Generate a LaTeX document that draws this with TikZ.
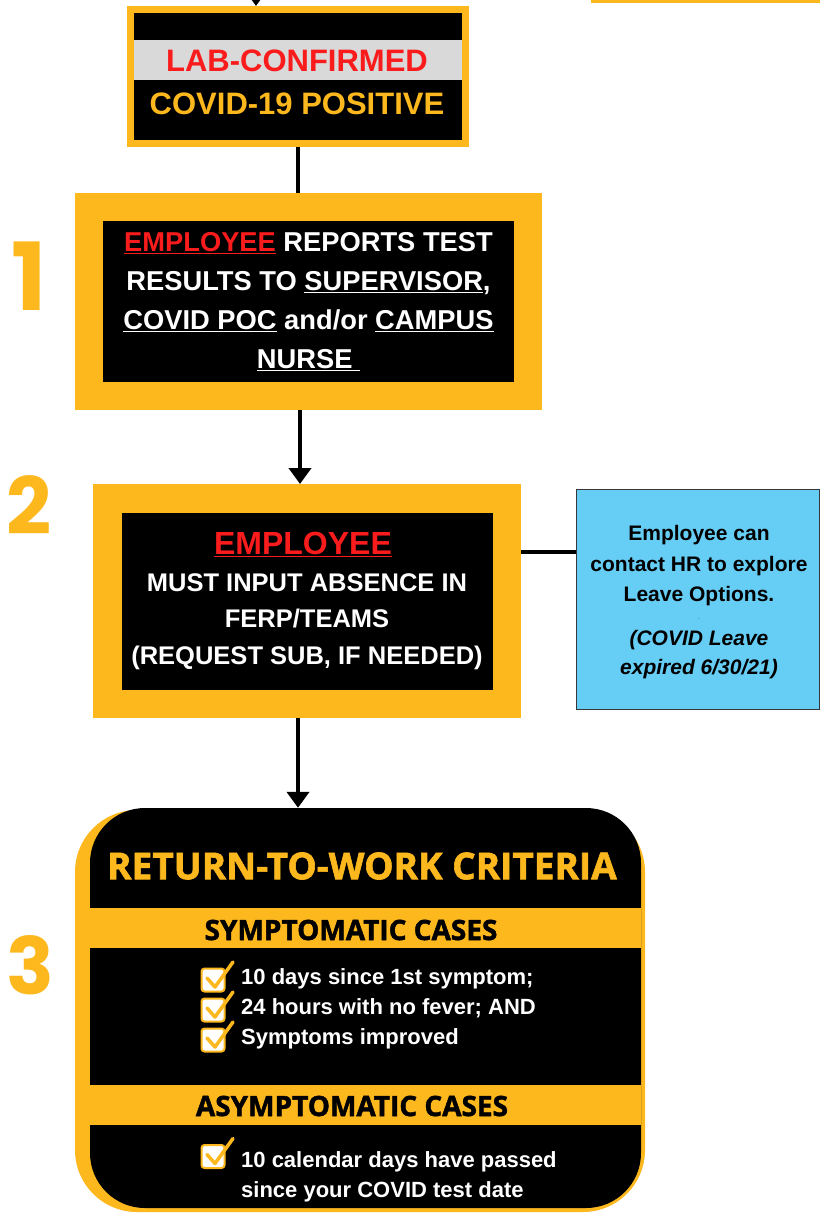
\documentclass[tikz,border=0pt]{standalone}
\usepackage{fontspec}
\setmainfont{Liberation Sans}
\newfontfamily\headfont{Open Sans}[BoldFeatures={FakeBold=1.6}]
\newfontfamily\stepfont{Poppins}
\usetikzlibrary{calc,arrows.meta}

\definecolor{gold}{RGB}{253,184,30}
\definecolor{alertred}{RGB}{250,28,28}
\definecolor{labgrey}{RGB}{217,217,217}
\definecolor{hrblue}{RGB}{102,205,245}
\definecolor{boxedge}{RGB}{55,55,55}

\tikzset{
  stepbox/.style={fill=black,draw=gold,inner sep=0pt,align=center,text=white},
  stepnum/.style={text=gold,inner sep=0pt,font=\stepfont\bfseries\fontsize{79}{79}\selectfont},
  link/.style={line width=4pt},
  flow/.style={line width=4pt,-{Triangle[length=16pt,width=22pt]}},
  casebar/.style={fill=gold},
  casetitle/.style={inner sep=0pt,font=\headfont\bfseries\fontsize{28}{28}\selectfont},
  item/.style={text=white,inner sep=0pt,align=left,font=\bfseries\fontsize{22}{30}\selectfont},
  tick/.pic={
    \draw[gold,fill=white,line width=2pt,rounded corners=3pt] (-11.5,-11.5) rectangle (11.5,11.5);
    \draw[gold,line width=3.5pt,line cap=round,line join=round] (-6,-2) -- (2,7) -- (20,-18);
  }
}

\begin{document}
\begin{tikzpicture}[x=1pt,y=-1pt]
\useasboundingbox (0,0) rectangle (820,1214);
\coordinate (incoming) at (256,-30);
\coordinate (spine) at (298,0);
\fill[gold] (591,-5) rectangle (820,3);

\node[stepbox,line width=7pt,minimum width=335pt,minimum height=134pt] (positive) at (298,76.5) {};
\fill[labgrey] (134,40) rectangle (462,80);
\node[text=alertred,inner sep=0pt,font=\bfseries\fontsize{31}{31}\selectfont] (lab) at (297,61) {LAB-CONFIRMED};
\node[text=gold,inner sep=0pt,font=\bfseries\fontsize{31}{31}\selectfont] (covid) at (297,104) {COVID-19 POSITIVE};

\node[stepbox,line width=28pt,minimum width=439pt,minimum height=189pt,
  font=\bfseries\fontsize{27.3}{39}\selectfont] (report) at (308.5,301.5)
  {{\color{alertred}\underline{EMPLOYEE}} REPORTS TEST\\
   RESULTS TO \underline{SUPERVISOR},\\
   \underline{COVID POC} and/or \underline{CAMPUS}\\
   \underline{NURSE\ }};

\node[stepbox,line width=28.5pt,minimum width=399.5pt,minimum height=205.5pt,
  font=\bfseries\fontsize{25.5}{36.5}\selectfont] (absence) at (307,601)
  {{\fontsize{32}{36.5}\selectfont\color{alertred}\underline{EMPLOYEE}}\hspace*{8pt}\\
   MUST INPUT ABSENCE IN\\
   FERP/TEAMS\\
   (REQUEST SUB, IF NEEDED)};

\node[fill=hrblue,draw=boxedge,line width=1pt,minimum width=243pt,minimum height=220pt] (leave) at (698,599.5) {};
\node[inner sep=0pt,align=center,font=\bfseries\fontsize{21}{30.5}\selectfont] (hr) at (699,566)
  {Employee can\\ contact HR to explore\\ Leave Options.};
\node[inner sep=0pt,font=\fontsize{5}{5}\selectfont] (dot) at (699,619) {.};
\node[inner sep=0pt,align=center,font=\bfseries\itshape\fontsize{21}{29}\selectfont] (expired) at (699,655)
  {(COVID Leave\\ expired 6/30/21)};

\node[stepnum,font=\stepfont\bfseries\fontsize{94}{94}\selectfont] (one) at (29,276) {1};
\node[stepnum] (two) at (29.5,505.5) {2};
\node[stepnum] (three) at (30,965.5) {3};

\fill[gold,rounded corners=62pt] (75,810) rectangle (645,1212);
\node[fill=black,inner sep=0pt,rounded corners=55pt,minimum width=551pt,minimum height=400pt] (criteria) at (365.5,1008) {};
\node[text=gold,inner sep=0pt,font=\headfont\bfseries\fontsize{37}{37}\selectfont] (rtw) at (362,866) {RETURN-TO-WORK CRITERIA};
\fill[casebar] (90,908) rectangle (641,948);
\node[casetitle] (sym) at (351,930) {SYMPTOMATIC CASES};
\fill[casebar] (90,1085) rectangle (641,1125);
\node[casetitle] (asym) at (352,1106) {ASYMPTOMATIC CASES};

\foreach \txt [count=\i] in {10 days since 1st symptom;,24 hours with no fever; AND,Symptoms improved}{
  \node[item,anchor=base west] (crit\i) at (241,{954.5+30*\i}) {\txt};
  \pic at ($(crit\i.base west)+(-28,-4.5)$) {tick};
}
\node[item,anchor=base west] (passed) at (241,1197.5) {10 calendar days have passed\\ since your COVID test date};
\pic at ($(passed.base west)+(-28,-41)$) {tick};

\draw[flow] (incoming) -- (incoming |- positive.north);
\draw[link] (positive.south -| spine) -- (report.north -| spine);
\draw[flow] ($(report.south -| spine)+(2,0)$) -- ($(absence.north -| spine)+(2,0)$);
\draw[link] ($(leave.west)+(0,-48)$) coordinate (hrlink) -- (absence.east |- hrlink);
\draw[flow] (absence.south -| spine) -- (criteria.north -| spine);
\end{tikzpicture}
\end{document}
